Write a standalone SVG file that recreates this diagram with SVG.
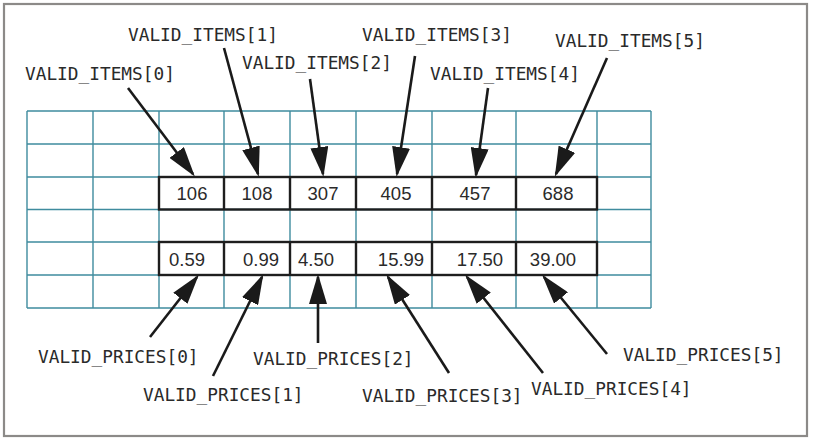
<svg xmlns="http://www.w3.org/2000/svg" width="813" height="441" viewBox="0 0 813 441">
<style>
.grid{stroke:#3f8c9e;stroke-width:1.4;fill:none}
.box{stroke:#1e1e1e;stroke-width:2.4;fill:none}
.val{font-family:"Liberation Sans",Arial,sans-serif;font-size:18.5px;fill:#2a2a2a;text-anchor:middle}
.lbl{font-family:"DejaVu Sans Mono",monospace;font-size:17.8px;fill:#2a2a2a}
.arr{stroke:#1a1a1a;stroke-width:2.6;fill:none;marker-end:url(#ah)}
</style>
<defs>
<marker id="ah" viewBox="0 0 30 18" refX="27" refY="9" markerWidth="30" markerHeight="18" markerUnits="userSpaceOnUse" orient="auto">
<path d="M0,0 L30,9 L0,18 z" fill="#1a1a1a"/>
</marker>
</defs>
<rect x="0" y="0" width="813" height="441" fill="#ffffff"/>
<rect x="4" y="4" width="803" height="432" fill="none" stroke="#8c8a88" stroke-width="2.2"/>
<g id="grid">
<path class="grid" d="M27,111V308M93,111V308M159,111V308M224,111V308M290,111V308M356,111V308M432,111V308M516,111V308M597,111V308M651,111V308"/>
<path class="grid" d="M27,111H651M27,144H651M27,177H651M27,209.5H651M27,242H651M27,275H651M27,308H651"/>
</g>
<g id="valid_items">
<rect class="box" x="159" y="177" width="438" height="32.5"/>
<path class="box" d="M224,177V209.5M290,177V209.5M356,177V209.5M432,177V209.5M516,177V209.5"/>
<text class="val" x="192" y="200">106</text>
<text class="val" x="257" y="200">108</text>
<text class="val" x="323" y="200">307</text>
<text class="val" x="396" y="200">405</text>
<text class="val" x="475" y="200">457</text>
<text class="val" x="558" y="200">688</text>
</g>
<g id="valid_prices">
<rect class="box" x="159" y="242" width="438" height="33"/>
<path class="box" d="M224,242V275M290,242V275M356,242V275M432,242V275M516,242V275"/>
<text class="val" x="187" y="266">0.59</text>
<text class="val" x="261" y="266">0.99</text>
<text class="val" x="316" y="266">4.50</text>
<text class="val" x="401" y="266">15.99</text>
<text class="val" x="480" y="266">17.50</text>
<text class="val" x="553" y="266">39.00</text>
</g>
<g id="item_labels">
<text class="lbl" x="25" y="80">VALID_ITEMS[0]</text>
<text class="lbl" x="128" y="41">VALID_ITEMS[1]</text>
<text class="lbl" x="242" y="69">VALID_ITEMS[2]</text>
<text class="lbl" x="362" y="41">VALID_ITEMS[3]</text>
<text class="lbl" x="430" y="80">VALID_ITEMS[4]</text>
<text class="lbl" x="555" y="47">VALID_ITEMS[5]</text>
</g>
<g id="price_labels">
<text class="lbl" x="38" y="363">VALID_PRICES[0]</text>
<text class="lbl" x="143" y="401">VALID_PRICES[1]</text>
<text class="lbl" x="253" y="365">VALID_PRICES[2]</text>
<text class="lbl" x="362" y="402">VALID_PRICES[3]</text>
<text class="lbl" x="531" y="395">VALID_PRICES[4]</text>
<text class="lbl" x="623" y="361">VALID_PRICES[5]</text>
</g>
<g id="connectors">
<line class="arr" x1="128" y1="88" x2="193" y2="174"/>
<line class="arr" x1="224" y1="48" x2="258" y2="174"/>
<line class="arr" x1="310" y1="79" x2="323" y2="174"/>
<line class="arr" x1="415" y1="56" x2="397" y2="174"/>
<line class="arr" x1="488" y1="88" x2="476" y2="175"/>
<line class="arr" x1="607" y1="58" x2="556" y2="174"/>
<line class="arr" x1="150" y1="337" x2="197" y2="277"/>
<line class="arr" x1="213" y1="376" x2="262" y2="277"/>
<line class="arr" x1="318" y1="343" x2="318" y2="277"/>
<line class="arr" x1="449" y1="373" x2="388" y2="277"/>
<line class="arr" x1="543" y1="373" x2="467" y2="277"/>
<line class="arr" x1="607" y1="354" x2="544" y2="277"/>
</g>
</svg>
